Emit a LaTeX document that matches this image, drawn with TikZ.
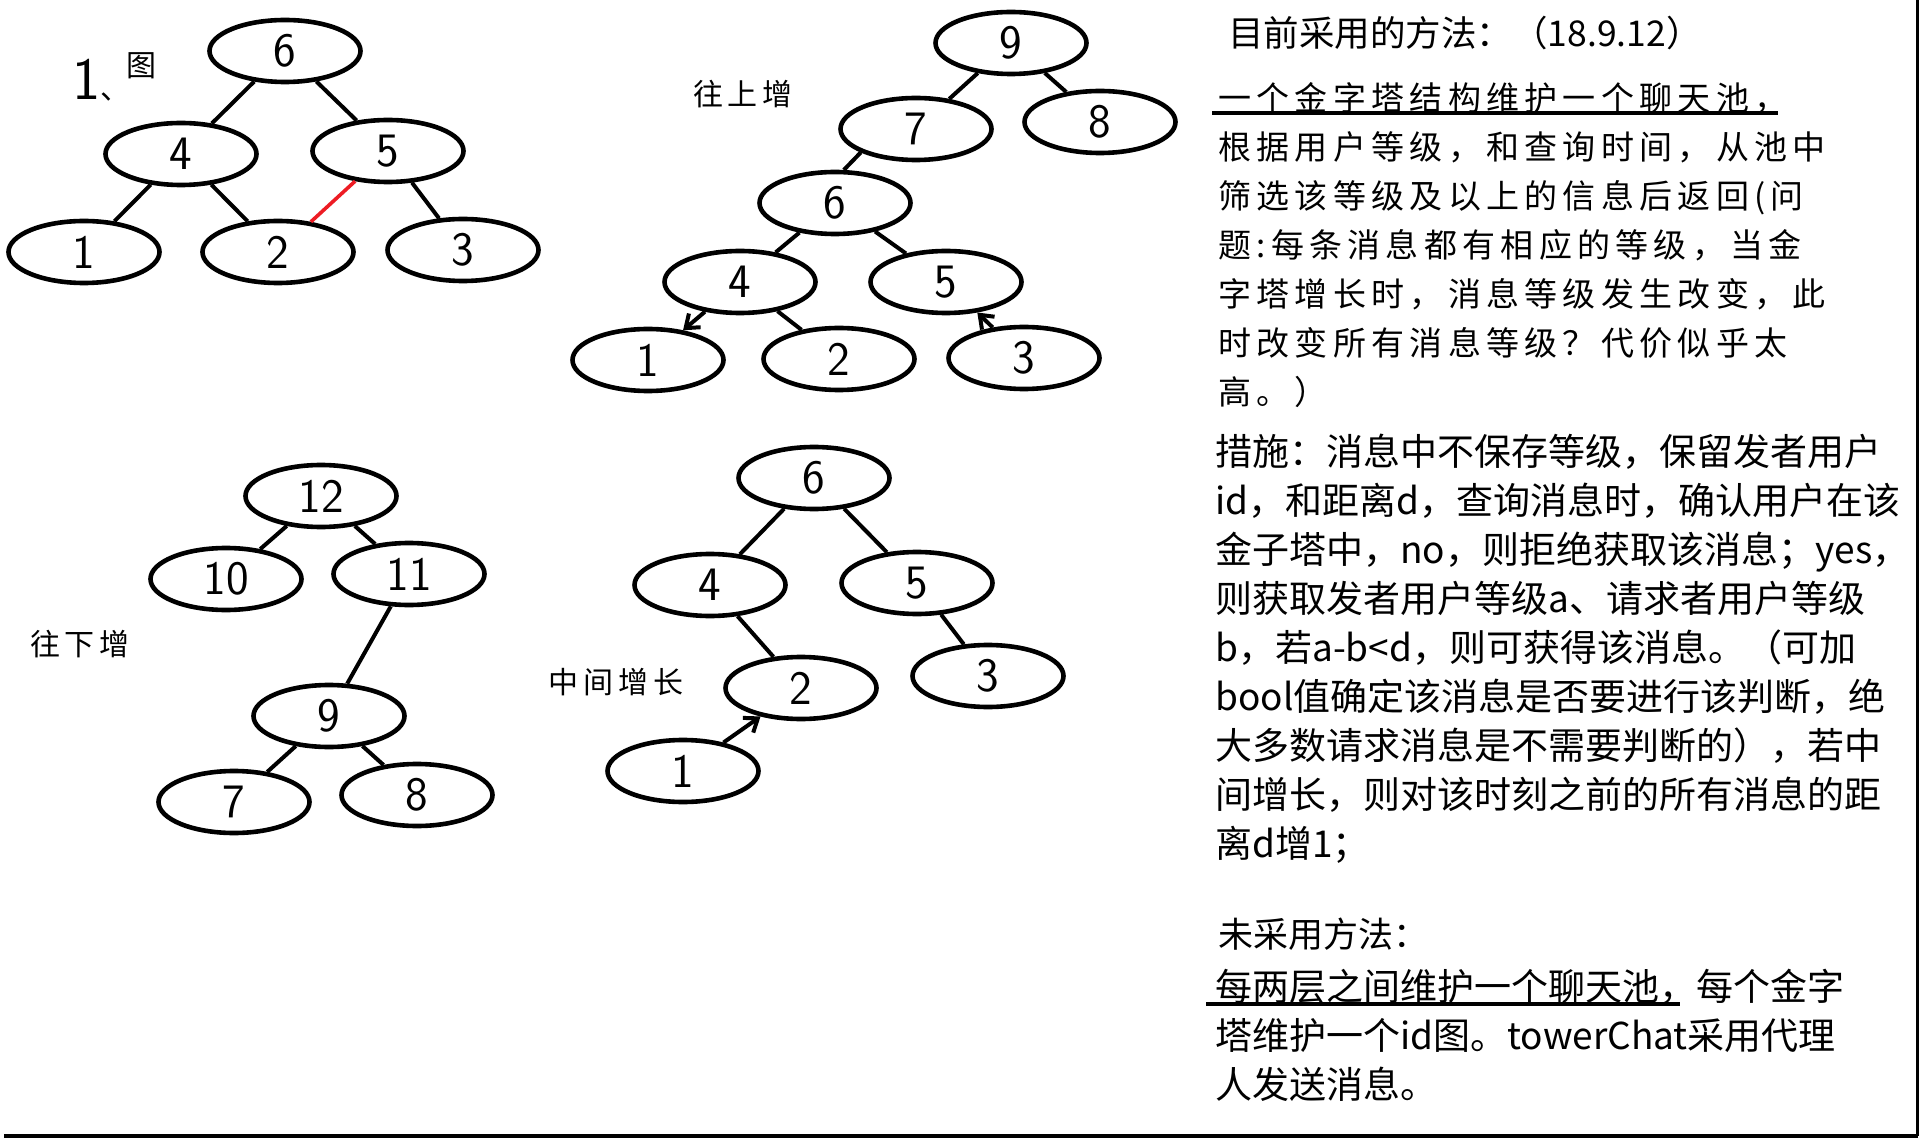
\documentclass[tikz,border=0pt]{standalone}
\usepackage{fontspec}
\usetikzlibrary{shapes.geometric,arrows.meta}
\newfontfamily\cjk{Noto Sans CJK SC}
\newfontfamily\cjkwide{Noto Sans CJK SC}[LetterSpace=16]
\definecolor{paintred}{RGB}{237,28,36}
\tikzset{
            pnode/.style={draw, ellipse, line width=2.3pt, minimum width=75.5pt,
                          minimum height=31pt, inner sep=0pt,
                          font=\sffamily\fontsize{24}{24}\selectfont},
            link/.style={line width=2pt},
            hint/.style={font=\cjkwide\fontsize{15}{15}\selectfont, inner sep=0pt},
            para/.style={anchor=north west, align=left, inner sep=0pt,
                         font=\cjk\fontsize{18.5}{24.5}\selectfont}
        }

\begin{document}
\begin{tikzpicture}[
                    x=0.5pt, y=-0.5pt,
                    >={Straight Barb[length=6pt,width=9pt]}
                    ]
    \useasboundingbox (0,0) rectangle (1920,1138);

    % 1、图
    \node[font=\sffamily\fontsize{30}{30}\selectfont, inner sep=0pt, anchor=base west]
        (lblone) at (72,100) {1\cjk\fontsize{15}{15}\selectfont 、};
    \node[hint] (lbltu) at (141,66) {图};
    \node[pnode] (t1n6) at (285,51) {6};
    \node[pnode] (t1n4) at (181,154) {4};
    \node[pnode] (t1n5) at (388,151) {5};
    \node[pnode] (t1n1) at (84,252) {1};
    \node[pnode] (t1n2) at (278,252) {2};
    \node[pnode] (t1n3) at (463,250) {3};
    \draw[link] (t1n6) -- (t1n4);
    \draw[link] (t1n6) -- (t1n5);
    \draw[link] (t1n4) -- (t1n1);
    \draw[link] (t1n4) -- (t1n2);
    \draw[link, paintred, line width=1.8pt] (t1n5) -- (t1n2);
    \draw[link] (t1n5) -- (t1n3);

    % 往上增
    \node[hint] (lblup) at (743,94) {往上增};
    \node[pnode] (t2n9) at (1011,43) {9};
    \node[pnode] (t2n8) at (1100,122) {8};
    \node[pnode] (t2n7) at (916,129) {7};
    \node[pnode] (t2n6) at (835,203) {6};
    \node[pnode] (t2n4) at (740,282) {4};
    \node[pnode] (t2n5) at (946,282) {5};
    \node[pnode] (t2n1) at (648,360) {1};
    \node[pnode] (t2n2) at (839,359) {2};
    \node[pnode] (t2n3) at (1024,358) {3};
    \draw[link] (t2n9) -- (t2n7);
    \draw[link] (t2n9) -- (t2n8);
    \draw[link] (t2n7.203) -- (t2n6.75);
    \draw[link] (t2n6) -- (t2n4);
    \draw[link] (t2n6) -- (t2n5);
    \draw[link, ->] (t2n4) -- (t2n1);
    \draw[link] (t2n4) -- (t2n2);
    \draw[link, ->] (t2n3) -- (t2n5);

    % 往下增
    \node[hint] (lbldown) at (80,644) {往下增};
    \node[pnode] (t3n12) at (321,496) {12};
    \node[pnode] (t3n10) at (226,579) {10};
    \node[pnode] (t3n11) at (409,574) {11};
    \node[pnode] (t3n9) at (329,716) {9};
    \node[pnode] (t3n7) at (234,802) {7};
    \node[pnode] (t3n8) at (417,795) {8};
    \draw[link] (t3n12) -- (t3n10);
    \draw[link] (t3n12) -- (t3n11);
    \draw[link] (t3n11) -- (t3n9);
    \draw[link] (t3n9) -- (t3n7);
    \draw[link] (t3n9) -- (t3n8);

    % 中间增长
    \node[hint] (lblmid) at (616,682) {中间增长};
    \node[pnode] (t4n6) at (814,478) {6};
    \node[pnode] (t4n4) at (710,585) {4};
    \node[pnode] (t4n5) at (917,583) {5};
    \node[pnode] (t4n2) at (801,688) {2};
    \node[pnode] (t4n3) at (988,676) {3};
    \node[pnode] (t4n1) at (683,771) {1};
    \draw[link] (t4n6) -- (t4n4);
    \draw[link] (t4n6) -- (t4n5);
    \draw[link] (t4n4) -- (t4n2);
    \draw[link, ->] (t4n1) -- (t4n2);
    \draw[link] (t4n5) -- (t4n3);

    % notes
    \node[font=\cjk\fontsize{17.75}{17.75}\selectfont, inner sep=0pt, anchor=west]
        (title) at (1228,33) {目前采用的方法：（18.9.12）};
    \node[para, font=\cjkwide\fontsize{16.5}{24.5}\selectfont] (plan) at (1218,82)
        {一个金字塔结构维护一个聊天池，\\
         根据用户等级，和查询时间，从池中\\
         筛选该等级及以上的信息后返回(问\\
         题:每条消息都有相应的等级，当金\\
         字塔增长时，消息等级发生改变，此\\
         时改变所有消息等级？代价似乎太\\
         高。）};
    \draw[line width=2.4pt] (1212,113) -- (1778,113);
    \node[para] (steps) at (1215,434)
        {措施：消息中不保存等级，保留发者用户\\
         id，和距离d，查询消息时，确认用户在该\\
         金子塔中，no，则拒绝获取该消息；yes，\\
         则获取发者用户等级a、请求者用户等级\\
         b，若a-b<d，则可获得该消息。（可加\\
         bool值确定该消息是否要进行该判断，绝\\
         大多数请求消息是不需要判断的），若中\\
         间增长，则对该时刻之前的所有消息的距\\
         离d增1；};
    \node[font=\cjk\fontsize{17.5}{17.5}\selectfont, inner sep=0pt, anchor=west]
        (other) at (1218,934) {未采用方法：};
    \node[para] (otherplan) at (1215,969)
        {每两层之间维护一个聊天池，每个金字\\
         塔维护一个id图。towerChat采用代理\\
         人发送消息。};
    \draw[line width=2.4pt] (1206,1004) -- (1680,1004);

    % frame
    \draw[line width=1.5pt] (1917,0) -- (1917,1136);
    \draw[line width=2.2pt] (4,1136) -- (1918,1136);
\end{tikzpicture}
\end{document}
